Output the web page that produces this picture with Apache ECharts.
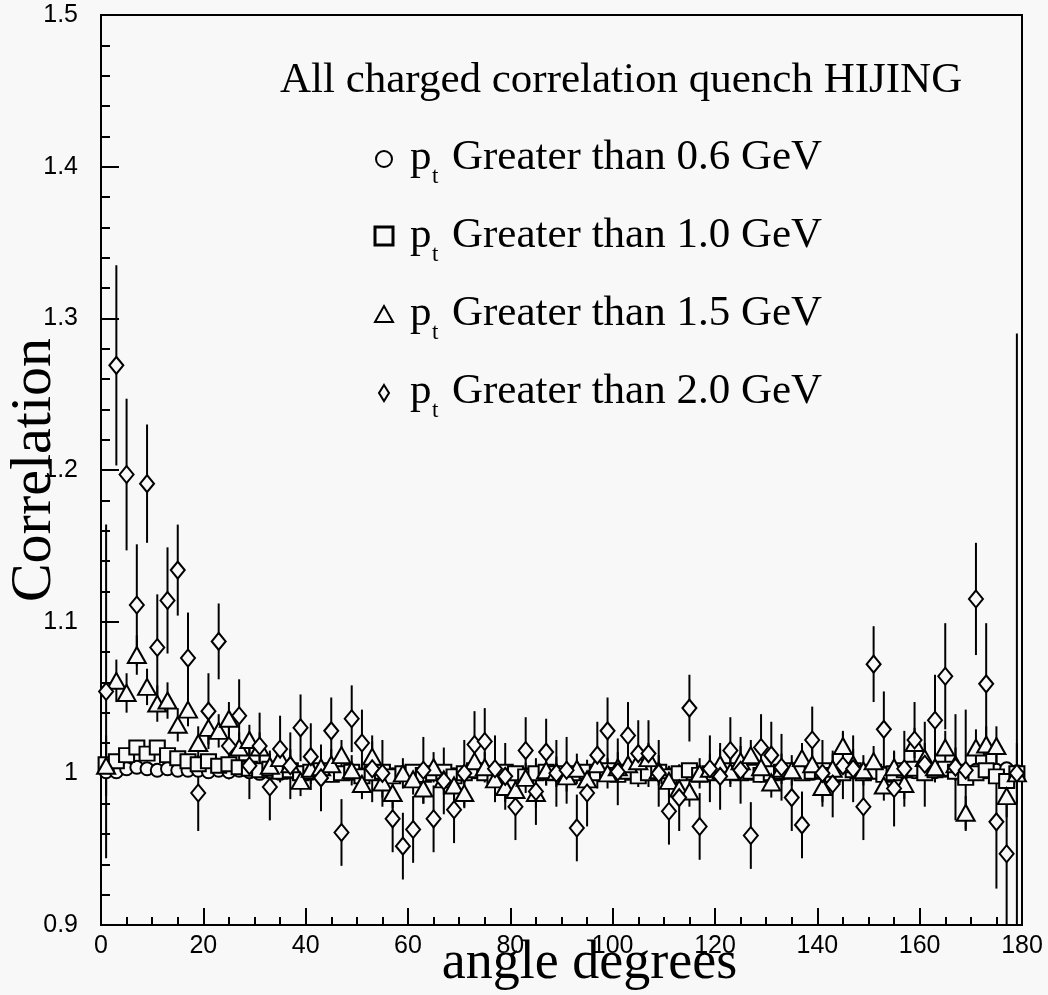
<!DOCTYPE html>
<html>
<head>
<meta charset="utf-8">
<script src="https://cdn.jsdelivr.net/npm/echarts@6/dist/echarts.min.js"></script>
<style>
html,body{margin:0;padding:0;background:#f8f8f8;}
#chart{width:1048px;height:995px;}
</style>
</head>
<body>
<div id="chart"></div>
<script>
// bin centres (degrees)
const angles = [1,3,5,7,9,11,13,15,17,19,21,23,25,27,29,31,33,35,37,39,41,43,45,47,49,51,53,55,57,59,61,63,65,67,69,71,73,75,77,79,81,83,85,87,89,91,93,95,97,99,101,103,105,107,109,111,113,115,117,119,121,123,125,127,129,131,133,135,137,139,141,143,145,147,149,151,153,155,157,159,161,163,165,167,169,171,173,175,177,179];

// pt > 0.6 GeV (circles)
const pt06 = [1.001,1.001,1.003,1.004,1.003,1.002,1.003,1.002,1.002,1.002,1.001,1.002,1.001,1.002,1.001,1.000,1.001,1.000,1.001,1.000,1.000,1.001,0.999,1.000,1.000,0.999,1.000,1.000,0.999,1.000,1.000,0.999,1.000,1.000,0.999,1.000,1.001,1.000,0.999,1.000,1.000,0.999,1.000,1.000,1.000,0.999,1.000,1.000,1.000,1.001,1.000,1.000,0.999,1.000,1.000,0.999,1.000,1.000,0.999,1.000,1.000,1.001,1.000,1.000,0.999,1.000,1.000,1.001,1.000,1.000,1.001,1.000,1.000,1.001,1.000,1.001,1.000,1.000,1.001,1.001,1.000,1.001,1.002,1.001,1.001,1.002,1.001,1.002,1.003,1.001];
const err06 = [0.003,0.002,0.002,0.002,0.002,0.002,0.002,0.002,0.002,0.002,0.002,0.002,0.002,0.002,0.002,0.002,0.002,0.002,0.002,0.002,0.002,0.002,0.002,0.002,0.002,0.002,0.002,0.002,0.002,0.002,0.002,0.002,0.002,0.002,0.002,0.002,0.002,0.002,0.002,0.002,0.002,0.002,0.002,0.002,0.002,0.002,0.002,0.002,0.002,0.002,0.002,0.002,0.002,0.002,0.002,0.002,0.002,0.002,0.002,0.002,0.002,0.002,0.002,0.002,0.002,0.002,0.002,0.002,0.002,0.002,0.002,0.002,0.002,0.002,0.002,0.002,0.002,0.002,0.002,0.002,0.002,0.002,0.002,0.002,0.002,0.002,0.002,0.002,0.002,0.003];

// pt > 1.0 GeV (squares)
const pt10 = [1.006,1.008,1.012,1.017,1.013,1.017,1.012,1.010,1.008,1.006,1.008,1.005,1.006,1.004,1.003,1.002,1.003,1.001,1.002,1.000,1.001,1.002,0.999,1.000,1.001,0.998,1.000,1.001,0.998,1.000,1.001,0.999,1.000,1.001,0.998,1.000,1.002,1.000,0.998,1.001,1.000,0.998,1.000,1.001,1.000,0.998,1.000,1.001,1.000,1.002,0.999,1.001,0.998,1.000,1.001,0.998,1.000,1.002,0.999,1.000,1.001,1.002,1.000,1.001,0.999,1.000,1.001,1.002,1.000,1.001,1.002,0.999,1.000,1.002,1.000,1.001,0.999,1.000,1.002,1.003,1.000,1.002,1.003,1.001,0.997,1.000,1.002,0.998,0.995,1.000];
const err10 = [0.005,0.004,0.004,0.004,0.004,0.004,0.004,0.004,0.004,0.004,0.004,0.004,0.004,0.004,0.004,0.004,0.004,0.004,0.004,0.004,0.004,0.004,0.004,0.004,0.004,0.004,0.004,0.004,0.004,0.004,0.004,0.004,0.004,0.004,0.004,0.004,0.004,0.004,0.004,0.004,0.004,0.004,0.004,0.004,0.004,0.004,0.004,0.004,0.004,0.004,0.004,0.004,0.004,0.004,0.004,0.004,0.004,0.004,0.004,0.004,0.004,0.004,0.004,0.004,0.004,0.004,0.004,0.004,0.004,0.004,0.004,0.004,0.004,0.004,0.004,0.004,0.004,0.004,0.004,0.004,0.004,0.004,0.004,0.004,0.004,0.004,0.004,0.004,0.005,0.006];

// pt > 1.5 GeV (triangles)
const pt15 = [1.005,1.061,1.053,1.078,1.057,1.046,1.048,1.032,1.042,1.020,1.030,1.028,1.036,1.017,1.022,1.017,1.005,1.010,1.006,0.995,1.003,1.004,1.006,1.012,1.002,0.993,1.011,0.994,0.987,1.000,0.996,0.990,1.004,0.996,0.992,0.987,1.008,1.004,0.996,0.991,0.989,0.997,0.987,1.002,1.001,0.998,1.003,0.996,1.006,1.000,1.004,1.006,1.008,1.010,1.002,0.995,0.990,0.988,1.000,1.003,1.006,1.001,1.008,1.012,1.004,0.994,1.003,1.002,1.010,1.006,0.991,1.003,1.018,1.006,1.002,1.008,0.992,1.004,0.993,1.020,1.010,1.004,1.017,1.006,0.974,1.017,1.019,1.018,0.985,1.000];
const err15 = [0.02,0.014,0.013,0.013,0.012,0.012,0.012,0.011,0.011,0.011,0.011,0.011,0.011,0.010,0.010,0.010,0.010,0.010,0.010,0.010,0.010,0.010,0.010,0.010,0.010,0.010,0.010,0.010,0.010,0.010,0.010,0.010,0.010,0.010,0.010,0.010,0.010,0.010,0.010,0.010,0.010,0.010,0.010,0.010,0.010,0.010,0.010,0.010,0.010,0.010,0.010,0.010,0.010,0.010,0.010,0.010,0.010,0.010,0.010,0.010,0.010,0.010,0.010,0.010,0.010,0.010,0.010,0.010,0.010,0.010,0.010,0.010,0.010,0.010,0.010,0.010,0.010,0.010,0.010,0.010,0.010,0.010,0.011,0.011,0.011,0.012,0.012,0.013,0.014,0.02];

// pt > 2.0 GeV (diamonds)
const pt20 = [1.054,1.269,1.197,1.111,1.191,1.083,1.114,1.134,1.076,0.987,1.041,1.087,1.018,1.038,1.005,1.018,0.991,1.016,1.005,1.030,1.011,0.997,1.028,0.961,1.036,1.020,1.003,1.000,0.970,0.952,0.963,1.002,0.970,0.995,0.976,1.000,1.019,1.021,1.003,0.998,0.978,1.015,0.988,1.014,1.000,1.002,0.964,0.987,1.012,1.028,1.001,1.025,1.013,1.013,1.000,0.975,0.984,1.043,0.965,1.003,0.998,1.015,1.002,0.959,1.017,1.012,1.004,0.984,0.966,1.022,1.000,0.993,1.005,1.003,0.978,1.072,1.029,0.990,1.003,1.022,1.006,1.035,1.064,1.004,1.002,1.115,1.059,0.968,0.947,1.000];
const err20 = [0.11,0.066,0.05,0.04,0.039,0.035,0.035,0.03,0.03,0.025,0.025,0.025,0.022,0.024,0.022,0.022,0.022,0.022,0.022,0.022,0.022,0.022,0.022,0.022,0.022,0.022,0.022,0.022,0.022,0.022,0.022,0.022,0.022,0.022,0.022,0.022,0.022,0.022,0.022,0.022,0.022,0.022,0.022,0.022,0.022,0.022,0.022,0.022,0.022,0.022,0.022,0.022,0.022,0.022,0.022,0.022,0.022,0.022,0.022,0.022,0.022,0.022,0.022,0.022,0.022,0.022,0.022,0.022,0.022,0.022,0.022,0.022,0.022,0.022,0.022,0.025,0.025,0.025,0.025,0.025,0.028,0.03,0.035,0.035,0.04,0.037,0.04,0.044,0.06,0.29];

const xTicks = [0,20,40,60,80,100,120,140,160,180];
const yTicks = [0.9,1,1.1,1.2,1.3,1.4,1.5];

const BG = '#f8f8f8';
const Y_MIN = 0.9, Y_MAX = 1.5;

function pts(vals){ return angles.map((a,i)=>[a, vals[i]]); }
function errs(vals, e){ return angles.map((a,i)=>[a, vals[i], e[i]]); }

function errSeries(vals, e){
  return {
    type:'custom',
    data: errs(vals, e),
    encode:{x:0,y:1},
    silent:true,
    renderItem:function(params, api){
      const x = api.value(0), y = api.value(1), d = api.value(2);
      const lo = Math.max(y-d, Y_MIN), hi = Math.min(y+d, Y_MAX);
      const p1 = api.coord([x, lo]), p2 = api.coord([x, hi]);
      return {type:'line', shape:{x1:p1[0],y1:p1[1],x2:p2[0],y2:p2[1]}, style:{stroke:'#000', lineWidth:2}};
    }
  };
}
function markSeries(name, vals, symbol, size){
  return {
    name:name, type:'scatter', data: pts(vals), symbol:symbol, symbolSize:size,
    itemStyle:{color:BG, borderColor:'#000', borderWidth:2, opacity:1},
    silent:true
  };
}

const chart = echarts.init(document.getElementById('chart'), null, {renderer:'canvas'});

const serif = '"Liberation Serif", "DejaVu Serif", serif';
const sans = '"Liberation Sans", "DejaVu Sans", sans-serif';

// baselines of legend rows (px)
const legendRows = [
  {sym:'circle', label:'Greater than 0.6 GeV', y:168},
  {sym:'rect', label:'Greater than 1.0 GeV', y:246},
  {sym:'triangle', label:'Greater than 1.5 GeV', y:324},
  {sym:'diamond', label:'Greater than 2.0 GeV', y:402}
];

const graphics = [
  {type:'text', x:280, y:59, style:{text:'All charged correlation quench HIJING', font:'43px '+serif, fill:'#000', verticalAlign:'top'}}
];
legendRows.forEach(r=>{
  const cy = r.y - 9;
  let shape;
  if (r.sym==='circle') shape = {type:'circle', shape:{cx:384, cy:cy, r:8}, style:{fill:BG, stroke:'#000', lineWidth:2}};
  else if (r.sym==='rect') shape = {type:'rect', shape:{x:375, y:cy-10, width:18, height:18}, style:{fill:BG, stroke:'#000', lineWidth:3}};
  else if (r.sym==='triangle') shape = {type:'polygon', shape:{points:[[384,cy-9],[375,cy+7],[393,cy+7]]}, style:{fill:BG, stroke:'#000', lineWidth:2}};
  else shape = {type:'polygon', shape:{points:[[384,cy-8],[389,cy],[384,cy+8],[379,cy]]}, style:{fill:BG, stroke:'#000', lineWidth:2}};
  graphics.push(shape);
  graphics.push({type:'text', x:410, y:r.y-32, style:{text:'p', font:'43px '+serif, fill:'#000', verticalAlign:'top'}});
  graphics.push({type:'text', x:432, y:r.y-3, style:{text:'t', font:'23px '+serif, fill:'#000', verticalAlign:'top'}});
  graphics.push({type:'text', x:452, y:r.y-32, style:{text:r.label, font:'43px '+serif, fill:'#000', verticalAlign:'top'}});
});

const option = {
  backgroundColor: BG,
  animation:false,
  grid:{left:101, right:26, top:15, bottom:70, show:true, borderColor:'#000', borderWidth:2, backgroundColor:'transparent', outerBoundsMode:'none', containLabel:false},
  xAxis:{
    type:'value', min:xTicks[0], max:xTicks[xTicks.length-1], interval:20,
    name:'angle degrees', nameLocation:'middle', nameGap:12, nameMoveOverlap:false,
    nameTextStyle:{fontFamily:serif, fontSize:54, color:'#000', verticalAlign:'top', padding:[0,0,0,56]},
    axisLine:{show:true, onZero:false, lineStyle:{color:'#000', width:2}},
    axisTick:{show:true, inside:true, length:17, lineStyle:{color:'#000', width:2}},
    minorTick:{show:true, splitNumber:4, length:8, lineStyle:{color:'#000', width:2}},
    axisLabel:{fontFamily:sans, fontSize:25, color:'#000', margin:9},
    splitLine:{show:false}
  },
  yAxis:{
    type:'value', min:yTicks[0], max:yTicks[yTicks.length-1], interval:0.1,
    name:'Correlation', nameLocation:'middle', nameGap:37, nameMoveOverlap:false,
    nameTextStyle:{fontFamily:serif, fontSize:58, color:'#000'},
    axisLine:{show:true, onZero:false, lineStyle:{color:'#000', width:2}},
    axisTick:{show:true, inside:true, length:18, lineStyle:{color:'#000', width:2}},
    minorTick:{show:true, splitNumber:5, length:9, lineStyle:{color:'#000', width:2}},
    axisLabel:{fontFamily:sans, fontSize:25, color:'#000', margin:23},
    splitLine:{show:false}
  },
  graphic: graphics,
  series:[
    errSeries(pt06, err06),
    markSeries('pt > 0.6 GeV', pt06, 'circle', 13),
    errSeries(pt10, err10),
    markSeries('pt > 1.0 GeV', pt10, 'rect', [15,14]),
    errSeries(pt15, err15),
    markSeries('pt > 1.5 GeV', pt15, 'triangle', [18,16]),
    errSeries(pt20, err20),
    markSeries('pt > 2.0 GeV', pt20, 'diamond', [14,17])
  ]
};
chart.setOption(option);
</script>
</body>
</html>
